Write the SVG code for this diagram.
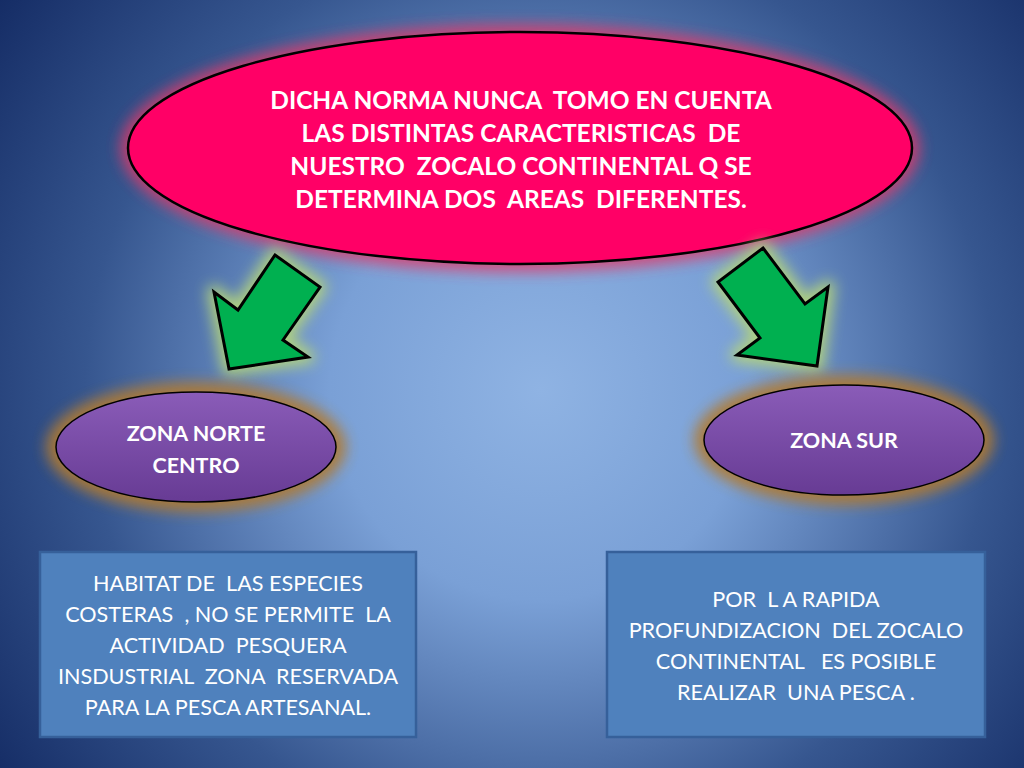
<svg xmlns="http://www.w3.org/2000/svg" width="1024" height="768" viewBox="0 0 1024 768">
<style>
.t{font-family:Lato,"Open Sans","Liberation Sans",sans-serif;fill:#fff;text-anchor:middle;dominant-baseline:central;white-space:pre}
.title{font-size:24.5px;font-weight:bold}
.zone{font-size:21.5px;font-weight:bold}
.body{font-size:21.6px}
.arrow{fill:#00b050;stroke:#000;stroke-width:3;stroke-linejoin:miter}
.zell{fill:url(#purple);stroke:#000;stroke-width:1.5}
.box{fill:#4f81bd;stroke:#36609a;stroke-width:2.5}
</style>
<defs>
<radialGradient id="bg" cx="540" cy="390" r="700" gradientUnits="userSpaceOnUse">
<stop offset="0" stop-color="#8fb3e3"/>
<stop offset="0.3" stop-color="#7aa0d6"/>
<stop offset="0.65" stop-color="#36568f"/>
<stop offset="1" stop-color="#10265f"/>
</radialGradient>
<linearGradient id="purple" x1="0" y1="0" x2="0" y2="1">
<stop offset="0" stop-color="#8a5cb8"/>
<stop offset="1" stop-color="#673b94"/>
</linearGradient>
<filter id="glow" x="-30%" y="-30%" width="160%" height="160%">
<feGaussianBlur stdDeviation="7"/>
</filter>
</defs>
<rect width="1024" height="768" fill="url(#bg)"/>

<g id="title">
<ellipse cx="520" cy="148" rx="400" ry="124" fill="#e03a6a" opacity="0.8" filter="url(#glow)"/>
<ellipse cx="520" cy="148" rx="392" ry="116" fill="#ff0066" stroke="#000" stroke-width="2.5"/>
<text class="t title" x="521" y="99">DICHA NORMA NUNCA  TOMO EN CUENTA</text>
<text class="t title" x="521" y="132">LAS DISTINTAS CARACTERISTICAS  DE</text>
<text class="t title" x="521" y="165">NUESTRO  ZOCALO CONTINENTAL Q SE</text>
<text class="t title" x="521" y="198">DETERMINA DOS  AREAS  DIFERENTES.</text>
</g>

<g id="connectors">
<polygon points="275,255 320,287 283,340 308,357 229,369 214,292 238,310" fill="#b5d67a" stroke="#b5d67a" stroke-width="14" stroke-linejoin="round" filter="url(#glow)" opacity="0.9"/>
<polygon class="arrow" points="275,255 320,287 283,340 308,357 229,369 214,292 238,310"/>
<polygon points="763,248 805,304 828,287 817,366 737,355 760,338 718,282" fill="#b5d67a" stroke="#b5d67a" stroke-width="14" stroke-linejoin="round" filter="url(#glow)" opacity="0.9"/>
<polygon class="arrow" points="763,248 805,304 828,287 817,366 737,355 760,338 718,282"/>
</g>

<g id="zona-norte">
<ellipse cx="196" cy="447" rx="150" ry="65" fill="#b07a30" opacity="0.9" filter="url(#glow)"/>
<ellipse class="zell" cx="196" cy="447" rx="140" ry="55"/>
<text class="t zone" x="196" y="433">ZONA NORTE</text>
<text class="t zone" x="196" y="465">CENTRO</text>
</g>

<g id="zona-sur">
<ellipse cx="844" cy="440" rx="150" ry="65" fill="#b07a30" opacity="0.9" filter="url(#glow)"/>
<ellipse class="zell" cx="844" cy="440" rx="140" ry="55"/>
<text class="t zone" x="844" y="440">ZONA SUR</text>
</g>

<g id="box-norte">
<rect class="box" x="40" y="552" width="376" height="185"/>
<text class="t body" x="228" y="583">HABITAT DE  LAS ESPECIES</text>
<text class="t body" x="228" y="614">COSTERAS  , NO SE PERMITE  LA</text>
<text class="t body" x="228" y="645">ACTIVIDAD  PESQUERA</text>
<text class="t body" x="228" y="676">INSDUSTRIAL  ZONA  RESERVADA</text>
<text class="t body" x="228" y="707">PARA LA PESCA ARTESANAL.</text>
</g>

<g id="box-sur">
<rect class="box" x="607" y="552" width="378" height="185"/>
<text class="t body" x="796" y="599">POR  L A RAPIDA</text>
<text class="t body" x="796" y="630">PROFUNDIZACION  DEL ZOCALO</text>
<text class="t body" x="796" y="661">CONTINENTAL   ES POSIBLE</text>
<text class="t body" x="796" y="692">REALIZAR  UNA PESCA .</text>
</g>
</svg>
